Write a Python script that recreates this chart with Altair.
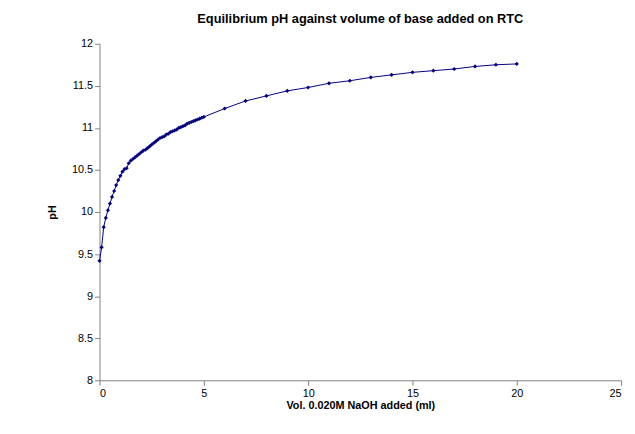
import altair as alt
import pandas as pd

vol = [0.0, 0.1, 0.2, 0.3, 0.4, 0.5, 0.6, 0.7, 0.8, 0.9,
       1.0, 1.1, 1.2, 1.3, 1.4, 1.5, 1.6, 1.7, 1.8, 1.9,
       2.0, 2.1, 2.2, 2.3, 2.4, 2.5, 2.6, 2.7, 2.8, 2.9,
       3.0, 3.1, 3.2, 3.3, 3.4, 3.5, 3.6, 3.7, 3.8, 3.9,
       4.0, 4.1, 4.2, 4.3, 4.4, 4.5, 4.6, 4.7, 4.8, 4.9,
       5.0, 6, 7, 8, 9, 10, 11, 12, 13, 14, 15, 16, 17, 18, 19, 20]
ph = [9.42, 9.58, 9.82, 9.93, 10.02, 10.10, 10.18, 10.25, 10.32, 10.38,
      10.43, 10.48, 10.51, 10.52, 10.58, 10.61, 10.63, 10.65, 10.67, 10.69,
      10.71, 10.73, 10.74, 10.76, 10.78, 10.80, 10.82, 10.84, 10.86, 10.88,
      10.89, 10.90, 10.92, 10.93, 10.95, 10.96, 10.97, 10.98, 11.00, 11.01,
      11.02, 11.03, 11.05, 11.06, 11.07, 11.08, 11.09, 11.10, 11.11, 11.12,
      11.13, 11.23, 11.32, 11.38, 11.44, 11.48, 11.53, 11.56, 11.60, 11.63,
      11.66, 11.68, 11.70, 11.73, 11.75, 11.76]

df = pd.DataFrame({"vol": vol, "ph": ph})

axis = dict(grid=False, domainColor="#808080", tickColor="#808080", labelFont="Liberation Sans",
            labelFontSize=11, labelColor="black", titleFont="Liberation Sans", titleFontSize=11,
            titleColor="black", tickSize=5, format="~g")

chart = (
    alt.Chart(df)
    .mark_line(color="#000080", strokeWidth=1,
               point=alt.OverlayMarkDef(shape="diamond", size=18, color="#000080", filled=True))
    .encode(
        x=alt.X("vol:Q", title="Vol. 0.020M NaOH added (ml)",
                scale=alt.Scale(domain=[0, 25], nice=False),
                axis=alt.Axis(values=[0, 5, 10, 15, 20, 25], titlePadding=2, **axis)),
        y=alt.Y("ph:Q", title="pH", scale=alt.Scale(domain=[8, 12], nice=False, zero=False),
                axis=alt.Axis(values=[8, 8.5, 9, 9.5, 10, 10.5, 11, 11.5, 12], titlePadding=14, **axis)),
    )
    .properties(width=530, height=342,
                padding={"left": 39, "top": 2, "right": 5, "bottom": 5},
                title=alt.TitleParams("Equilibrium pH against volume of base added on RTC",
                                      font="Liberation Sans", fontSize=13, fontWeight="bold",
                                      anchor="middle", offset=12))
    .configure_view(stroke=None)
)

chart.save("out.html", embed_options={"renderer": "svg", "actions": False})
